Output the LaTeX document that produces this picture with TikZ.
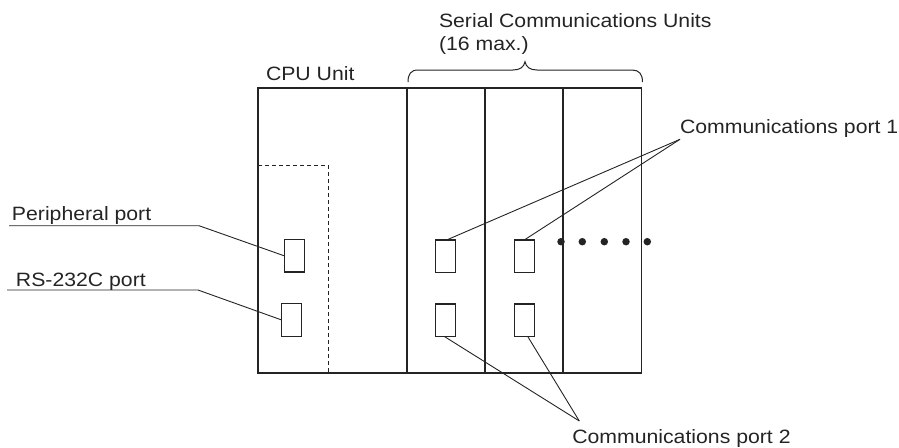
\documentclass[tikz,border=0pt]{standalone}
\usepackage{fontspec}
\setmainfont{Liberation Sans}[FakeStretch=1.1]
\definecolor{ink}{gray}{0.14}
\begin{document}
\begin{tikzpicture}[x=1pt,y=-1pt,
  every node/.style={inner sep=0pt,outer sep=0pt},
  lbl/.style={anchor=base west,font=\fontsize{19.3}{22}\selectfont,text=ink},
  port/.style={draw=ink,line width=1.4pt,minimum width=20pt,minimum height=32.5pt,fill=white},
  frame/.style={draw=ink,line width=1.4pt},
  divider/.style={draw=ink,line width=2.2pt},
  leader/.style={draw=ink,line width=0.9pt},
  dot/.style={circle,fill=ink,minimum size=7.5pt}]
\useasboundingbox (0,0) rectangle (899,447);
% main housing
\draw[frame] (258,88) rectangle (641.5,373);
\draw[divider] (407,88) -- (407,373);
\draw[divider] (485,88) -- (485,373);
\draw[frame] (563,88) -- (563,373);
\draw[ink,line width=1.1pt,dash pattern=on 4pt off 3pt] (258,165.7) -- (328.3,165.7) -- (328.3,373);
% ports
\node[port] (cpa) at (294.2,255.8) {};
\node[port] (cpb) at (291.7,320) {};
\node[port] (sa1) at (445.7,256.2) {};
\node[port] (sb1) at (524.3,256.2) {};
\node[port] (sa2) at (445.7,320.2) {};
\node[port] (sb2) at (524.3,320.2) {};
% dots
\foreach \i/\x in {1/561,2/582.3,3/604.3,4/626,5/647.3}
  \node[dot] (d\i) at (\x,241.7) {};
% brace
\draw[ink,line width=1pt] (408,82) .. controls (408,74) and (411,70) .. (418,70)
  -- (513,70) .. controls (520,70) and (524,67) .. (525,61.7)
  .. controls (526,67) and (530,70) .. (537,70)
  -- (632,70) .. controls (639,70) and (642.5,74) .. (642.5,82);
% texts
\node[lbl] (serial) at (439,27.7) {Serial Communications Units};
\node[lbl] (max) at (439,50) {(16 max.)};
\node[lbl] (cpu) at (266,80) {CPU Unit};
\node[lbl] (c1) at (680,133.3) {Communications port 1};
\node[lbl] (c2) at (572.3,443.3) {Communications port 2};
\node[lbl] (peri) at (12,220.7) {Peripheral port};
\node[lbl] (rs) at (16,286) {RS-232C port};
% leader lines
\coordinate (pL) at (9,225.7);
\coordinate (pK) at (199,225.7);
\coordinate (rL) at (7,290);
\coordinate (rK) at (198,290);
\coordinate (c1v) at (680,139.3);
\coordinate (c2v) at (579.3,421);
\draw[leader] (pL) -- (pK) -- (cpa.west);
\draw[leader] (rL) -- (rK) -- (cpb.west);
\draw[leader] (c1v) -- ([xshift=1pt]sa1.north);
\draw[leader] (c1v) -- (sb1.north);
\draw[leader] (c2v) -- ([xshift=-1.4pt]sa2.south);
\draw[leader] (c2v) -- ([xshift=3.4pt]sb2.south);
\end{tikzpicture}
\end{document}
